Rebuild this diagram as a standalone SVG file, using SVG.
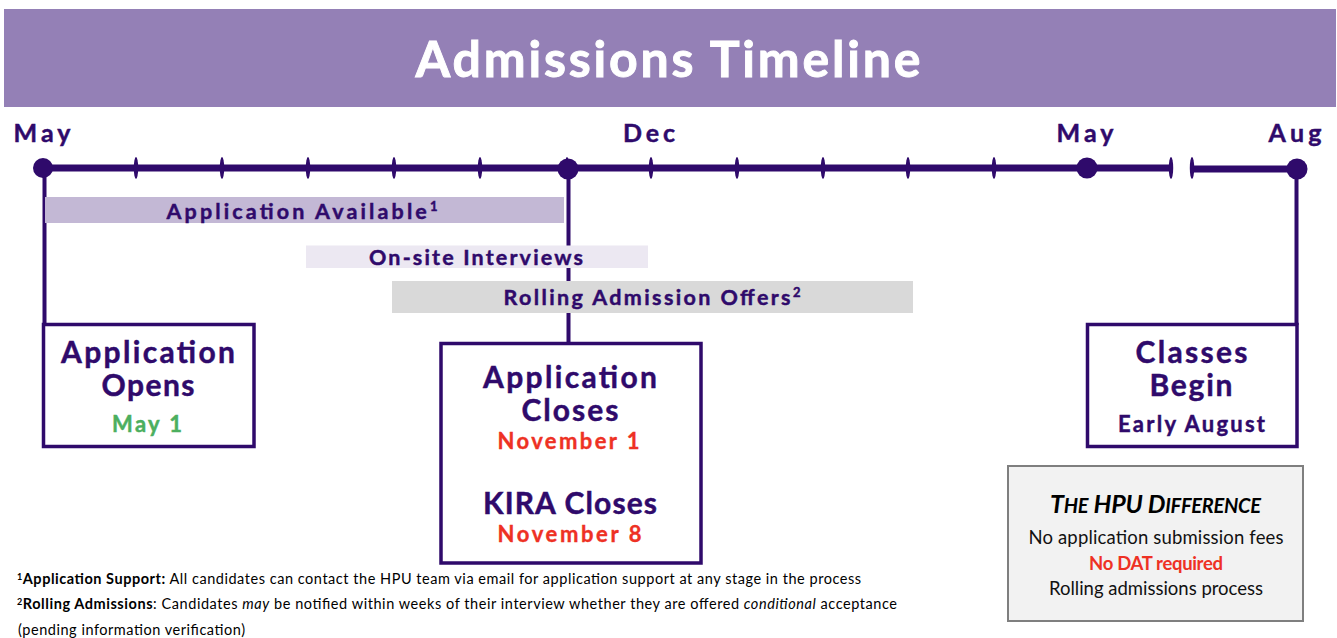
<svg xmlns="http://www.w3.org/2000/svg" width="1337" height="638" viewBox="0 0 1337 638">
<style>
text{font-family:"Lato","Liberation Sans",sans-serif;text-anchor:middle}
.p{fill:#2f0a6b;font-weight:700;stroke:#2f0a6b;stroke-width:.45}
.r{fill:#ee3124;font-weight:700;stroke:#ee3124;stroke-width:.35}
.box{fill:#fff;stroke:#2f0a6b;stroke-width:3.5}
.tick{fill:#2f0a6b}
.wire{stroke:#2f0a6b;fill:none}
.m{font-size:25px}
.b{font-size:21.5px}
.h{font-size:30px}
.d{font-size:22px}
.n{font-size:14.5px;fill:#000;text-anchor:start}
.f{font-size:18.5px;fill:#111}
</style>
<rect x="0" y="0" width="1337" height="638" fill="#fff"/>
<g id="header"><rect x="4" y="9" width="1332" height="98" fill="#9480b6"/>
<text x="668" y="77" font-size="50" font-weight="700" fill="#fff" stroke="#fff" stroke-width=".9" textLength="505">Admissions Timeline</text></g>
<g id="connectors">
<path class="wire" stroke-width="4" d="M44.500 168V325M568.500 168V343M1296.500 168V325"/>
<path class="wire" stroke-width="7" d="M43 168H1171M1192 169H1296"/>
</g>
<g id="axis">
<ellipse class="tick" cx="136" cy="168" rx="2.200" ry="11"/>
<ellipse class="tick" cx="222" cy="168" rx="2.200" ry="11"/>
<ellipse class="tick" cx="308" cy="168" rx="2.200" ry="11"/>
<ellipse class="tick" cx="394" cy="168" rx="2.200" ry="11"/>
<ellipse class="tick" cx="480" cy="168" rx="2.200" ry="11"/>
<ellipse class="tick" cx="567" cy="168" rx="2.200" ry="11"/>
<ellipse class="tick" cx="651" cy="168" rx="2.200" ry="11"/>
<ellipse class="tick" cx="737" cy="168" rx="2.200" ry="11"/>
<ellipse class="tick" cx="823" cy="168" rx="2.200" ry="11"/>
<ellipse class="tick" cx="908" cy="168" rx="2.200" ry="11"/>
<ellipse class="tick" cx="994" cy="168" rx="2.200" ry="11"/>
<ellipse class="tick" cx="1171" cy="168" rx="2.200" ry="11"/>
<ellipse class="tick" cx="1192" cy="168" rx="2.200" ry="11"/>
<circle class="tick" cx="43" cy="168" r="10"/>
<circle class="tick" cx="568" cy="169" r="10.500"/>
<circle class="tick" cx="1087" cy="168" r="10.500"/>
<circle class="tick" cx="1297" cy="169" r="10.500"/>
<text class="p m" x="42" y="142" textLength="57">May</text>
<text class="p m" x="649" y="142" textLength="52">Dec</text>
<text class="p m" x="1085" y="142" textLength="57">May</text>
<text class="p m" x="1295" y="142" textLength="53">Aug</text>
</g>
<g id="bar-available"><rect x="45" y="197" width="519" height="26" fill="#c3b8d5"/>
<text class="p b" x="302" y="219" textLength="271">Application Available<tspan font-size="13" dy="-8">1</tspan></text></g>
<g id="bar-interviews"><rect x="306" y="245.500" width="342" height="22.500" fill="#ece8f2"/>
<text class="p b" x="476" y="265" textLength="214">On-site Interviews</text></g>
<g id="bar-rolling"><rect x="392" y="281" width="521" height="32" fill="#d9d9d9"/>
<text class="p b" x="652" y="305" textLength="297">Rolling Admission Offers<tspan font-size="13" dy="-8">2</tspan></text></g>
<g id="node-opens"><rect class="box" x="43.500" y="324.500" width="210.500" height="122"/>
<text class="p h" x="148" y="363" textLength="174">Application</text>
<text class="p h" x="148" y="396" textLength="93">Opens</text>
<text class="p d" x="147" y="432" style="fill:#4caf5f;stroke:#4caf5f" textLength="70">May 1</text></g>
<g id="node-closes"><rect class="box" x="441" y="343.500" width="260" height="219.500"/>
<text class="p h" x="570" y="388" textLength="174">Application</text>
<text class="p h" x="570" y="421" textLength="97">Closes</text>
<text class="d r" x="568.500" y="449" textLength="142">November 1</text>
<text class="p h" x="570" y="514" textLength="174">KIRA Closes</text>
<text class="d r" x="569.500" y="542" textLength="144">November 8</text></g>
<g id="node-begin"><rect class="box" x="1087.500" y="324.500" width="209.500" height="122"/>
<text class="p h" x="1191.500" y="363" textLength="112">Classes</text>
<text class="p h" x="1191" y="396" textLength="83">Begin</text>
<text class="p d" x="1191.500" y="432" textLength="147">Early August</text></g>
<g id="node-difference"><rect x="1008" y="466" width="295" height="155" fill="#f2f2f2" stroke="#7f7f7f" stroke-width="2"/>
<text x="1155.500" y="513" font-size="25" font-weight="700" font-style="italic" fill="#000" textLength="211">T<tspan font-size="20">HE</tspan> HPU D<tspan font-size="20">IFFERENCE</tspan></text>
<text class="f" x="1156" y="544" textLength="255">No application submission fees</text>
<text class="f" x="1156" y="570" font-weight="700" style="fill:#ee3124" textLength="134">No DAT required</text>
<text class="f" x="1156" y="595" textLength="214">Rolling admissions process</text></g>
<g id="footnotes">
<text class="n" x="17" y="584" textLength="844"><tspan font-size="9" dy="-4" font-weight="700">1</tspan><tspan font-weight="700" dy="4">Application Support:</tspan> All candidates can contact the HPU team via email for application support at any stage in the process</text>
<text class="n" x="17" y="609" textLength="880"><tspan font-size="9" dy="-4" font-weight="700">2</tspan><tspan font-weight="700" dy="4">Rolling Admissions</tspan>: Candidates <tspan font-style="italic">may</tspan> be notified within weeks of their interview whether they are offered <tspan font-style="italic">conditional</tspan> acceptance</text>
<text class="n" x="18" y="635" textLength="227">(pending information verification)</text>
</g>
</svg>
